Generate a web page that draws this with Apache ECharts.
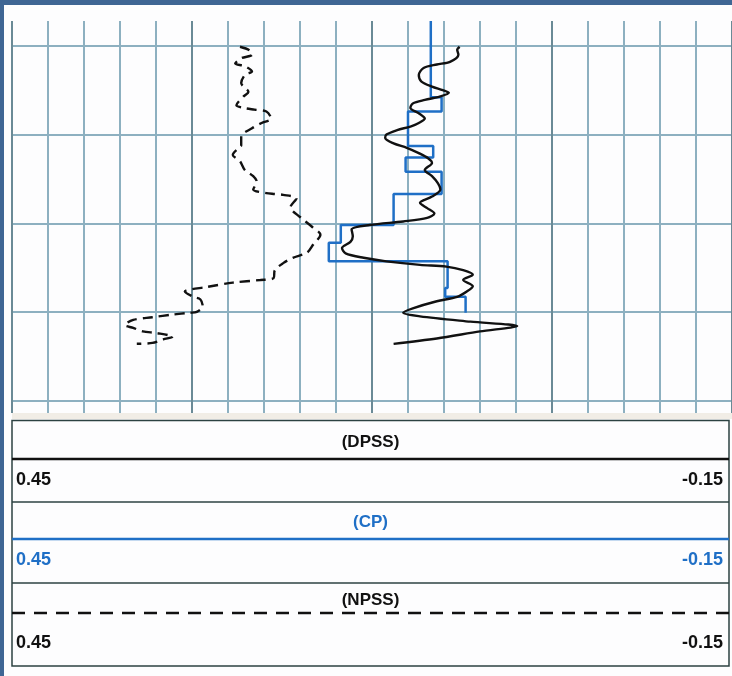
<!DOCTYPE html>
<html><head><meta charset="utf-8">
<script src="https://cdn.jsdelivr.net/npm/echarts@6/dist/echarts.min.js"></script>
<style>html,body{margin:0;padding:0;background:#3f6694;overflow:hidden}#c{width:732px;height:676px;}</style>
</head><body><div id="c"></div>
<script>
// ---- data ----
const seriesNames = ['(DPSS)', '(CP)', '(NPSS)'];
const scaleLeft = 0.45, scaleRight = -0.15, xInterval = 0.03;
const scaleLabels = ['0.45', '-0.15'];
const depthRange = [997.2, 1041.4];
const depthGrid = [1000, 1010, 1020, 1030, 1040];

const dpssDepth = [1000.1,1000.45,1001.0,1001.8,1002.1,1002.5,1003.3,1004.0,1004.6,1005.0,1005.3,1005.7,1006.1,1006.5,1007.0,1007.6,1008.2,1008.7,1009.1,1009.5,1010.0,1010.4,1011.0,1011.5,1012.1,1012.7,1013.2,1014.0,1014.7,1015.5,1016.2,1017.0,1017.7,1018.3,1018.9,1019.4,1019.8,1020.2,1020.7,1021.5,1022.1,1022.8,1023.4,1023.9,1024.3,1024.7,1024.9,1025.3,1025.8,1026.4,1027.1,1027.7,1028.3,1028.8,1029.6,1030.1,1030.5,1031.1,1031.6,1032.2,1033.0,1033.6];
const dpssValue = [0.077,0.079,0.078,0.085,0.096,0.107,0.111,0.109,0.100,0.091,0.086,0.093,0.106,0.116,0.118,0.111,0.106,0.111,0.118,0.129,0.138,0.139,0.132,0.121,0.111,0.103,0.100,0.106,0.100,0.095,0.093,0.100,0.110,0.104,0.098,0.104,0.124,0.152,0.167,0.166,0.168,0.175,0.172,0.157,0.138,0.110,0.088,0.074,0.066,0.074,0.066,0.071,0.079,0.096,0.116,0.124,0.110,0.068,0.029,0.060,0.096,0.132];

const cpTop = [997.2,1005.8,1007.4,1011.3,1012.6,1014.2,1016.7,1020.2,1022.2,1024.3,1027.3,1028.3];
const cpBottom = 1030.1;
const cpValue = [0.101,0.092,0.120,0.099,0.122,0.092,0.132,0.176,0.186,0.087,0.089,0.072];

const npssDepth = [1000.1,1000.5,1001.0,1001.4,1002.0,1002.3,1002.9,1003.3,1004.2,1005.2,1005.7,1006.7,1007.0,1007.2,1007.4,1008.2,1008.7,1009.3,1010.2,1011.2,1011.5,1012.3,1013.0,1014.0,1014.7,1015.3,1016.2,1016.6,1016.7,1016.8,1017.2,1018.2,1019.3,1020.4,1021.3,1022.4,1023.3,1023.9,1024.5,1025.3,1026.2,1026.4,1026.7,1027.2,1027.7,1028.3,1028.6,1029.4,1030.0,1030.1,1030.3,1030.6,1030.9,1031.5,1031.8,1032.2,1032.4,1032.8,1033.1,1033.5,1033.6];
const npssValue = [0.260,0.252,0.250,0.259,0.264,0.256,0.250,0.256,0.259,0.253,0.257,0.263,0.257,0.248,0.238,0.234,0.242,0.250,0.259,0.259,0.261,0.266,0.260,0.256,0.249,0.246,0.249,0.238,0.232,0.224,0.213,0.218,0.210,0.200,0.193,0.199,0.204,0.216,0.224,0.231,0.232,0.243,0.266,0.288,0.306,0.299,0.293,0.291,0.296,0.302,0.316,0.333,0.349,0.356,0.349,0.341,0.329,0.316,0.324,0.333,0.346];

// ---- build ----
const dpssData = dpssDepth.map((d, i) => [dpssValue[i], d]);
const npssData = npssDepth.map((d, i) => [npssValue[i], d]);
const cpData = [];
cpValue.forEach((v, i) => {
  const next = i + 1 < cpTop.length ? cpTop[i + 1] : cpBottom;
  cpData.push([v, cpTop[i]], [v, next]);
});

const BLUE = '#1f6fc6';
const MINOR = '#8db0c0', MAJOR = '#6a8a96';
const FONT = 'Liberation Sans, Arial, sans-serif';
const hidden = {axisLine:{show:false}, axisTick:{show:false}, axisLabel:{show:false}};

const boxTops = [420.5, 502, 583];
const boxBottom = 666;
const legendColors = ['#111', BLUE, '#111'];
const graphics = [
  {type:'rect', z:-10, shape:{x:4, y:5, width:728, height:671}, style:{fill:'#fdfdfe'}},
  {type:'rect', z:-9, shape:{x:12, y:413, width:720, height:6}, style:{fill:'#f1ede6'}},
  {type:'rect', shape:{x:12, y:420.5, width:717, height:boxBottom-420.5}, style:{fill:'none', stroke:'#2c4242', lineWidth:1.5}},
];
boxTops.forEach((t, i) => {
  if (i > 0) graphics.push({type:'line', shape:{x1:12, y1:t, x2:729, y2:t}, style:{stroke:'#2c4242', lineWidth:1.5}});
  const lineY = [459, 539, 613][i];
  graphics.push({type:'line', shape:{x1:12, y1:lineY, x2:729, y2:lineY},
    style:{stroke:legendColors[i], lineWidth:2.5, lineDash: i === 2 ? [13, 9] : null}});
  graphics.push({type:'text', x:370.5, y:[442, 522, 600][i],
    style:{text:seriesNames[i], fill:legendColors[i], font:'bold 17px ' + FONT, align:'center', verticalAlign:'middle'}});
  const ly = [480, 560, 643][i];
  graphics.push({type:'text', x:16, y:ly,
    style:{text:scaleLabels[0], fill:legendColors[i], font:'bold 18px ' + FONT, align:'left', verticalAlign:'middle'}});
  graphics.push({type:'text', x:723, y:ly,
    style:{text:scaleLabels[1], fill:legendColors[i], font:'bold 18px ' + FONT, align:'right', verticalAlign:'middle'}});
});

const chart = echarts.init(document.getElementById('c'), null, {renderer:'canvas'});
chart.setOption({
  animation:false,
  backgroundColor:'transparent',
  grid:[
    {left:12, top:21, width:720, height:392},
    {left:12, top:46, width:720, height:354.7}
  ],
  xAxis:[
    Object.assign({type:'value', gridIndex:0, min:scaleRight, max:scaleLeft, interval:xInterval, inverse:true,
      splitLine:{show:true, lineStyle:{color:[MAJOR, MINOR, MINOR, MINOR, MINOR], width:2}}}, hidden),
    Object.assign({type:'value', gridIndex:1, min:scaleRight, max:scaleLeft, inverse:true, splitLine:{show:false}}, hidden)
  ],
  yAxis:[
    Object.assign({type:'value', gridIndex:0, min:depthRange[0], max:depthRange[1], inverse:true, splitLine:{show:false}}, hidden),
    Object.assign({type:'value', gridIndex:1, min:depthGrid[0], max:depthGrid[depthGrid.length-1],
      interval:depthGrid[1]-depthGrid[0], inverse:true,
      splitLine:{show:true, lineStyle:{color:MINOR, width:2}}}, hidden)
  ],
  series:[
    {name:seriesNames[1], type:'line', xAxisIndex:0, yAxisIndex:0, data:cpData, symbol:'none',
      lineStyle:{color:BLUE, width:2.5}, z:3},
    {name:seriesNames[0], type:'line', xAxisIndex:0, yAxisIndex:0, data:dpssData, symbol:'none', smooth:0.3,
      lineStyle:{color:'#111', width:2.4}, z:4},
    {name:seriesNames[2], type:'line', xAxisIndex:0, yAxisIndex:0, data:npssData, symbol:'none', smooth:0.3,
      lineStyle:{color:'#111', width:2.4, type:[10,6]}, z:4}
  ],
  graphic: graphics
});
</script></body></html>
